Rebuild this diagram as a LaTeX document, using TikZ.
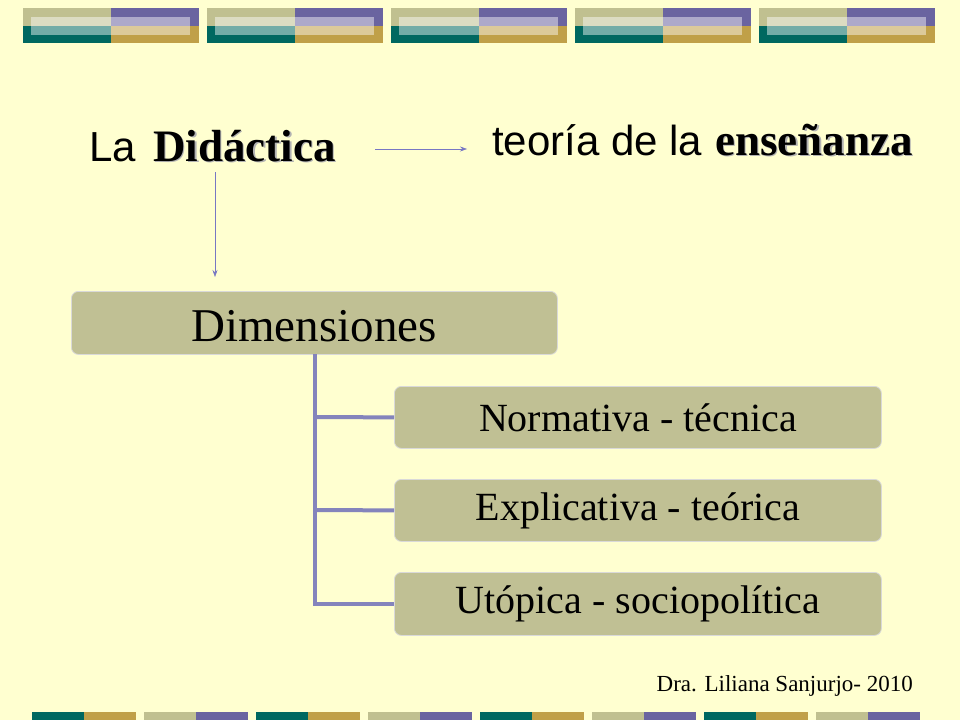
\documentclass[tikz,border=0pt]{standalone}
\usepackage{fontspec}
\usetikzlibrary{arrows.meta}
\setmainfont{Liberation Serif}
\newfontfamily\arialf{Liberation Sans}
\definecolor{bg}{HTML}{FFFFD0}
\definecolor{oli}{HTML}{C0C090}
\definecolor{pur}{HTML}{6A64A0}
\definecolor{tea}{HTML}{006860}
\definecolor{gol}{HTML}{C0A048}
\definecolor{boxf}{HTML}{C0C094}
\definecolor{lnk}{HTML}{8484BC}
\begin{document}
\begin{tikzpicture}[x=1pt,y=-1pt,
 dbox/.style={draw=white!70!gray,fill=boxf,rounded corners=7pt,line width=0.8pt,inner sep=0pt},
 arr/.style={draw=lnk!90!blue,line width=0.6pt,-{Stealth[length=7pt,width=5pt]}},
 conn/.style={draw=lnk,line width=4pt}]
\fill[bg] (0,0) rectangle (960,720);
\useasboundingbox (0,0) rectangle (960,720);
\foreach \i in {0,...,4}{
 \begin{scope}[xshift=\i*184]
 \fill[oli] (23,8) rectangle (111,25.5);
 \fill[pur] (111,8) rectangle (199,25.5);
 \fill[tea] (23,25.5) rectangle (111,43);
 \fill[gol] (111,25.5) rectangle (199,43);
 \fill[white,opacity=0.45] (31,17) rectangle (190,35);
 \end{scope}}
\foreach \i in {0,...,7}{
 \begin{scope}[xshift=\i*112]
 \ifodd\i
 \fill[oli] (32,712) rectangle (84,720); \fill[pur] (84,712) rectangle (136,720);
 \else
 \fill[tea] (32,712) rectangle (84,720); \fill[gol] (84,712) rectangle (136,720);
 \fi
 \end{scope}}
\node[anchor=base west,inner sep=0pt] (la) at (89,161) {\fontsize{42}{46}\selectfont\arialf La};
\node[anchor=base west,inner sep=0pt,text=gray!60] at (154.5,162.5) {\fontsize{45}{48}\selectfont\bfseries Didáctica};
\node[anchor=base west,inner sep=0pt] (did) at (153,161) {\fontsize{45}{48}\selectfont\bfseries Didáctica};
\node[anchor=base west,inner sep=0pt] (teo) at (492,155) {\fontsize{42}{46}\selectfont\arialf teoría de la};
\node[anchor=base west,inner sep=0pt,text=gray!60] at (716.5,156.5) {\fontsize{45}{48}\selectfont\bfseries enseñanza};
\node[anchor=base west,inner sep=0pt] (ens) at (715,155) {\fontsize{45}{48}\selectfont\bfseries enseñanza};
\coordinate (a1) at (375,149); \coordinate (a2) at (467,149);
\coordinate (b1) at (215,172); \coordinate (b2) at (215,277);
\draw[arr] (a1) -- (a2);
\draw[arr] (b1) -- (b2);
\node[dbox,minimum width=486pt,minimum height=63pt,anchor=north west] (dim) at (71,291) {};
\node at (314,326) {\fontsize{47}{50}\selectfont Dimensiones};
\node[dbox,minimum width=487pt,minimum height=62pt,anchor=north west] (n1) at (394,386) {\fontsize{40}{44}\selectfont Normativa - técnica};
\node[dbox,minimum width=487pt,minimum height=62pt,anchor=north west] (n2) at (394,479) {\fontsize{40}{44}\selectfont Explicativa - teórica};
\node[dbox,minimum width=487pt,minimum height=63pt,anchor=north west] (n3) at (394,572) {\fontsize{40}{44}\selectfont Utópica - sociopolítica};
\draw[conn] (315,354) |- (n3.west);
\draw[conn] (315,417) -- (n1.west);
\draw[conn] (315,510) -- (n2.west);
\node[anchor=base east,inner sep=0pt] (ft) at (913,691) {\fontsize{23}{26}\selectfont Dra. Liliana Sanjurjo- 2010};
\end{tikzpicture}
\end{document}
